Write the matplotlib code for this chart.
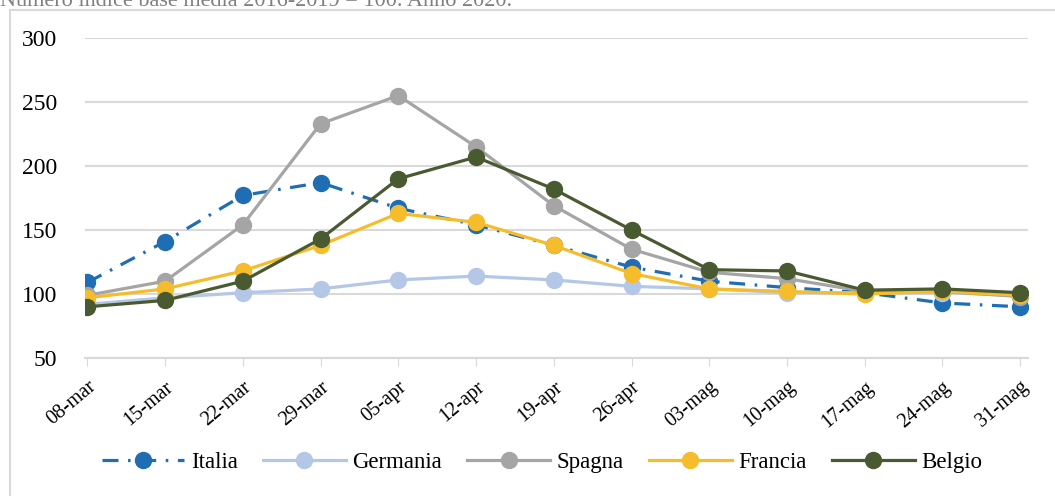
import numpy as np
import matplotlib.pyplot as plt
from matplotlib.patches import Rectangle

plt.close('all')
plt.rcParams['font.family'] = ['Liberation Serif', 'DejaVu Serif']

# --- Data ---
weeks = ['08-mar', '15-mar', '22-mar', '29-mar', '05-apr', '12-apr', '19-apr',
         '26-apr', '03-mag', '10-mag', '17-mag', '24-mag', '31-mag']
italia = [109, 141, 177, 187, 167, 154, 138, 121, 110, 105, 101, 93, 90]
germania = [92, 97, 101, 104, 111, 114, 111, 106, 104, 101, 101, 101, 99]
spagna = [99, 110, 154, 233, 255, 215, 169, 135, 117, 112, 102, 102, 98]
francia = [97, 104, 118, 138, 163, 156, 138, 116, 104, 102, 100, 102, 99]
belgio = [90, 95, 110, 143, 190, 207, 182, 150, 119, 118, 103, 104, 101]
yticks = [50, 100, 150, 200, 250, 300]

# --- Figure ---
fig = plt.figure(figsize=(10.55, 4.96), dpi=100)
ax = fig.add_axes([85/1055, 1 - 358/496, (1028 - 85)/1055, (358 - 38)/496])

# frame around chart and cut-off title
fig.patches.append(Rectangle((10/1055, -0.05), 1.1, 1 - 10/496 + 0.05,
                             transform=fig.transFigure, fill=False,
                             ec='#D9D9D9', lw=1.5))
fig.text(0.0, 1 - 6/496, 'Numero indice base media 2016-2019 = 100. Anno 2020.',
         fontsize=16, color='#7F7F7F', va='baseline', ha='left')

x = np.arange(len(weeks))
ms = 11.5
lw = 2.3
ax.plot(x, italia, color='#1F6EB4', lw=lw, marker='o', ms=ms,
        dashes=(5, 3, 0.8, 3), label='Italia')
ax.plot(x, germania, color='#B4C7E7', lw=lw, marker='o', ms=ms, label='Germania')
ax.plot(x, spagna, color='#A5A5A5', lw=lw, marker='o', ms=ms, label='Spagna')
ax.plot(x, francia, color='#F5BD2C', lw=lw, marker='o', ms=ms, label='Francia')
ax.plot(x, belgio, color='#4A5A30', lw=lw, marker='o', ms=ms, label='Belgio')

ax.set_ylim(50, 300)
ax.set_xlim(-0.03, 12.1)
ax.set_yticks(yticks)
ax.set_xticks(x)
ax.set_xticklabels(weeks, rotation=40, ha='right', rotation_mode='anchor')
ax.tick_params(axis='y', length=0, labelsize=17, pad=20)
ax.tick_params(axis='x', length=6, color='#D9D9D9', labelsize=14.5, pad=8)
ax.grid(axis='y', color='#D9D9D9', lw=1.5)
ax.set_axisbelow(True)
for s in ['top', 'right', 'left']:
    ax.spines[s].set_visible(False)
ax.spines['bottom'].set_color('#D9D9D9')
ax.spines['bottom'].set_linewidth(1.5)

fig.legend(loc='center', bbox_to_anchor=(542/1055, 1 - 462/496), ncol=5,
           frameon=False, fontsize=16.5, handlelength=3.6, columnspacing=1.1,
           handletextpad=0.3)

fig.savefig('out.png', dpi=100)
